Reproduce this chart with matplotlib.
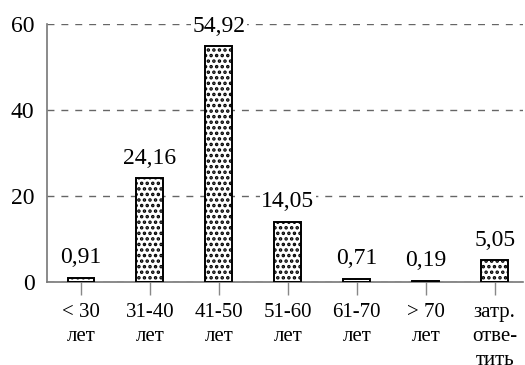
import matplotlib.pyplot as plt
import matplotlib as mpl

categories = ["< 30\nлет", "31-40\nлет", "41-50\nлет", "51-60\nлет",
              "61-70\nлет", "> 70\nлет", "затр.\nотве-\nтить"]
values = [0.91, 24.16, 54.92, 14.05, 0.71, 0.19, 5.05]
value_labels = ["0,91", "24,16", "54,92", "14,05", "0,71", "0,19", "5,05"]
yticks = [0, 20, 40, 60]

plt.rcParams['font.family'] = ['Liberation Serif', 'DejaVu Serif']
mpl.rcParams['hatch.linewidth'] = 1.7

fig = plt.figure(figsize=(5.25, 3.65), dpi=100)
ax = fig.add_axes([0.0895, 0.2274, 0.9065, 0.7056])

x = range(len(values))
ax.bar(x, values, width=0.39, color='white', edgecolor='black',
       linewidth=1.4, hatch='...', zorder=3)

for xi, v, lab in zip(x, values, value_labels):
    ax.annotate(lab, (xi, v), xytext=(0, 7), textcoords='offset points',
                ha='center', va='bottom', fontsize=17, zorder=4,
                bbox=dict(boxstyle='square,pad=0.05', fc='white', ec='none'))

ax.set_xlim(-0.493, 6.41)
ax.set_ylim(0, 60)
ax.set_yticks(yticks)
ax.set_yticklabels([str(t) for t in yticks], fontsize=17)
ax.set_xticks(list(x))
ax.set_xticklabels(categories, fontsize=15, linespacing=1.35)

ax.yaxis.grid(True, linestyle=(0, (5, 5)), color='#666666', linewidth=1.0, zorder=0)
ax.set_axisbelow(True)

for s in ['top', 'right']:
    ax.spines[s].set_visible(False)
for s in ['left', 'bottom']:
    ax.spines[s].set_color('#777777')
    ax.spines[s].set_linewidth(1.2)

ax.tick_params(axis='y', length=0, pad=9)
ax.tick_params(axis='x', length=9, color='#888888', width=1, pad=6)

fig.savefig('out.png', dpi=100)
